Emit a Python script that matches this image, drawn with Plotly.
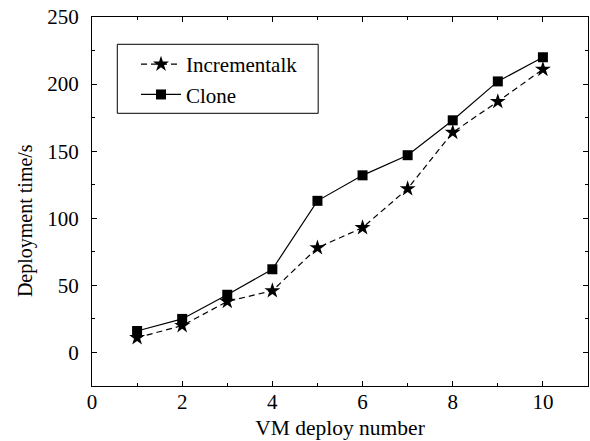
import plotly.graph_objects as go

x_vals = [1, 2, 3, 4, 5, 6, 7, 8, 9, 10]
incrementalk = [11, 20, 38, 46, 78, 93, 122, 164, 187, 211]
clone = [16, 25, 43, 62, 113, 132, 147, 173, 202, 220]

font_family = "Liberation Serif, serif"

fig = go.Figure()
fig.add_trace(go.Scatter(
    x=x_vals, y=incrementalk, name="Incrementalk", mode="lines+markers",
    line=dict(color="black", width=1.2, dash="6px,4px"),
    marker=dict(symbol="star", size=12, color="black"),
))
fig.add_trace(go.Scatter(
    x=x_vals, y=clone, name="Clone", mode="lines+markers",
    line=dict(color="black", width=1.2),
    marker=dict(symbol="square", size=10, color="black"),
))

axis_common = dict(
    showline=True, linecolor="black", linewidth=1.2, mirror="ticks",
    ticks="inside", ticklen=5, tickcolor="black", showgrid=False, zeroline=False,
    tickfont=dict(family=font_family, size=21, color="black"),
)

fig.update_xaxes(
    range=[0, 11], tick0=0, dtick=2,
    minor=dict(ticks="inside", ticklen=3, dtick=1, tickcolor="black"),
    ticklabelstandoff=-3,
    title=dict(text="VM deploy number", font=dict(family=font_family, size=21.5, color="black"), standoff=6),
    **axis_common,
)
fig.update_yaxes(
    range=[-25, 250], tick0=0, dtick=50,
    minor=dict(ticks="inside", ticklen=3, dtick=25, tick0=0, tickcolor="black"),
    ticklabelstandoff=8,
    **axis_common,
)

# y-axis title (sits slightly below the axis centre in the reference)
fig.add_annotation(
    text="Deployment time/s", xref="paper", yref="paper", x=-0.135, y=0.447,
    xanchor="center", yanchor="middle", textangle=-90, showarrow=False,
    font=dict(family=font_family, size=20, color="black"),
)

# legend frame
fig.add_shape(
    type="rect", xref="paper", yref="paper", x0=0.051, x1=0.456, y0=0.739, y1=0.926,
    line=dict(color="black", width=1), fillcolor="white", layer="below",
)

fig.update_layout(
    width=590, height=441,
    margin=dict(l=92, r=2, t=17, b=55),
    plot_bgcolor="white", paper_bgcolor="white",
    font=dict(family=font_family, color="black"),
    legend=dict(
        x=(136 - 92) / 496, y=0.8306, xanchor="left", yanchor="middle",
        borderwidth=0, bgcolor="rgba(0,0,0,0)",
        font=dict(family=font_family, size=21, color="black"),
        tracegroupgap=0, itemwidth=40,
    ),
)

fig.write_html("out.html")
